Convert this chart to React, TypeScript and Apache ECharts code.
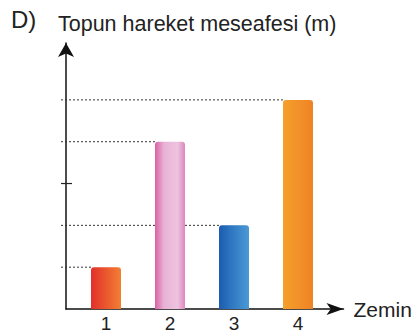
import React, { useEffect, useRef } from "react";
import * as echarts from "echarts";

const categories = [1, 2, 3, 4];
const distances = [1, 4, 2, 5];
const tickValues = [1, 2, 3, 4, 5];
const barColors = [
  [["#e2302a", 0], ["#f27f33", 1]],
  [["#d862a6", 0], ["#e9b2d6", 0.3], ["#edc4df", 0.75], ["#df86be", 1]],
  [["#1b5caf", 0], ["#2e76c2", 0.4], ["#4b9ad4", 1]],
  [["#f59f2c", 0], ["#ef8325", 1]],
];
const xName = "Zemin";
const yName = "Topun hareket meseafesi (m)";
const panelLabel = "D)";

const FONT = "Liberation Sans, Arial, Helvetica, sans-serif";
const X_MIN = 0.375;
const X_MAX = 4.711;

export default function App() {
  const ref = useRef<HTMLDivElement>(null);
  useEffect(() => {
    if (!ref.current) return;
    const chart = echarts.init(ref.current, null, { renderer: "svg" });
    const grad = (stops: any[]) =>
      new echarts.graphic.LinearGradient(
        0, 0, 1, 0,
        stops.map(([c, o]) => ({ offset: o, color: c }))
      );
    const barData = categories.map((c, i) => ({
      value: [c, distances[i]],
      itemStyle: { color: grad(barColors[i]) },
    }));
    const guideData = categories.map((c, i) => [c, distances[i]]);
    const plainTicks = tickValues
      .filter((t) => !distances.includes(t))
      .map((t) => [X_MIN, t]);

    chart.setOption({
      animation: false,
      textStyle: { fontFamily: FONT },
      title: [
        {
          text: panelLabel,
          left: 6,
          top: 2,
          textStyle: { fontSize: 24, fontWeight: "normal", color: "#222", fontFamily: FONT },
        },
        {
          text: yName,
          left: 53,
          top: 8,
          textStyle: { fontSize: 21.5, fontWeight: "normal", color: "#222", fontFamily: FONT },
        },
      ],
      grid: { left: 66, right: 72.5, top: 43, bottom: 23, containLabel: false },
      xAxis: {
        type: "value",
        min: X_MIN,
        max: X_MAX,
        name: xName,
        nameLocation: "end",
        nameGap: 10,
        nameTextStyle: { fontSize: 21, color: "#222", fontFamily: FONT },
        splitLine: { show: false },
        axisTick: { show: false },
        axisLine: {
          show: true,
          lineStyle: { color: "#111", width: 1.5 },
          symbol: ["none", "arrow"],
          symbolSize: [9, 17],
        },
        axisLabel: {
          customValues: categories,
          fontSize: 19,
          color: "#222",
          margin: 5,
          fontFamily: FONT,
        },
      },
      yAxis: {
        type: "value",
        min: 0,
        max: 6.36,
        splitLine: { show: false },
        axisTick: { show: false },
        axisLabel: { show: false },
        axisLine: {
          show: true,
          lineStyle: { color: "#111", width: 1.5 },
          symbol: ["none", "arrow"],
          symbolSize: [12, 14],
        },
      },
      series: [
        {
          type: "custom",
          name: "guides",
          z: 1,
          silent: true,
          clip: false,
          data: guideData,
          renderItem: (params: any, api: any) => {
            const p = api.coord([api.value(0), api.value(1)]);
            const x0 = api.coord([X_MIN, 0])[0];
            return {
              type: "line",
              shape: { x1: x0 - 5, y1: p[1], x2: p[0] - 15, y2: p[1] },
              style: { stroke: "#333", lineWidth: 1, lineDash: [2, 2] },
            };
          },
        },
        {
          type: "custom",
          name: "ticks",
          z: 3,
          silent: true,
          clip: false,
          data: plainTicks,
          renderItem: (params: any, api: any) => {
            const p = api.coord([api.value(0), api.value(1)]);
            return {
              type: "line",
              shape: { x1: p[0] - 5, y1: p[1], x2: p[0] + 6, y2: p[1] },
              style: { stroke: "#222", lineWidth: 1.2 },
            };
          },
        },
        {
          type: "bar",
          z: 2,
          barWidth: 30,
          data: barData,
          itemStyle: { borderRadius: [3, 3, 0, 0] },
        },
      ],
    });
    return () => chart.dispose();
  }, []);
  return (
    <div
      ref={ref}
      style={{ position: "absolute", left: 0, top: 0, width: 416, height: 333, background: "#fff" }}
    />
  );
}
